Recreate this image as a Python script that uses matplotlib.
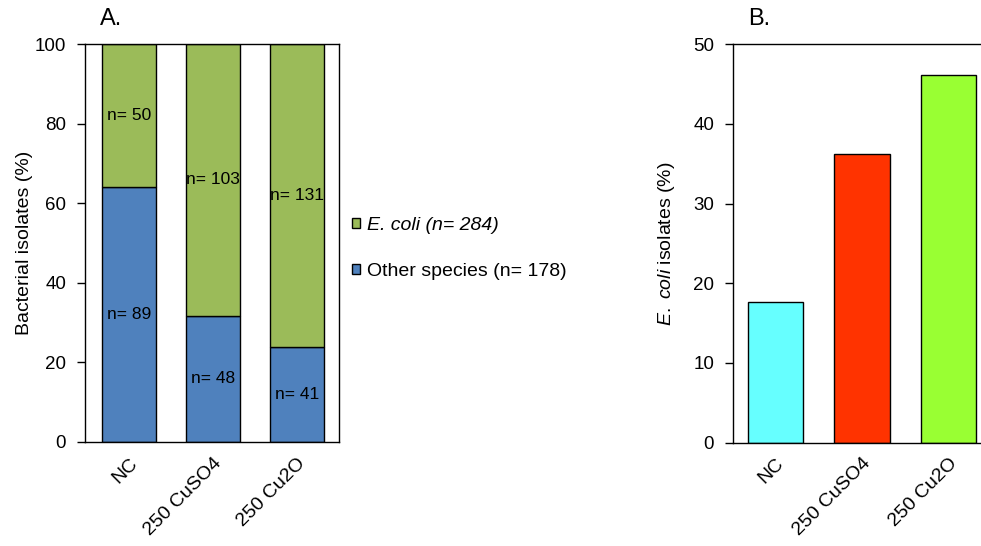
import numpy as np
import matplotlib.pyplot as plt
import matplotlib.transforms as mtransforms

plt.rcParams['font.family'] = ['Liberation Sans', 'DejaVu Sans']
plt.rcParams['mathtext.fontset'] = 'custom'
plt.rcParams['mathtext.rm'] = 'Liberation Sans'
plt.rcParams['mathtext.it'] = 'Liberation Sans:italic'

groups = ['NC', '250 CuSO4', '250 Cu2O']
ecoli_n = [50, 103, 131]
other_n = [89, 48, 41]
ecoli_total = 284
other_total = 178

totals = np.array(ecoli_n) + np.array(other_n)
other_pct = np.array(other_n) / totals * 100
ecoli_pct = np.array(ecoli_n) / totals * 100
# share of all E. coli isolates found in each group
ecoli_share = np.array(ecoli_n) / ecoli_total * 100

blue = '#4F81BD'
green = '#9BBB59'
colors_b = ['#66FFFF', '#FF3300', '#99FF33']

fig = plt.figure(figsize=(9.81, 5.46), dpi=100)
W, H = 981, 546

def px_axes(x0, y0, x1, y1):
    return fig.add_axes([x0 / W, 1 - y1 / H, (x1 - x0) / W, (y1 - y0) / H])

x = np.arange(len(groups))

# --- A. stacked percentages
ax1 = px_axes(85, 44.3, 339, 442)
b1 = ax1.bar(x, other_pct, width=0.64, color=blue, edgecolor='black', linewidth=1)
b2 = ax1.bar(x, ecoli_pct, width=0.64, bottom=other_pct, color=green, edgecolor='black', linewidth=1)
ax1.set_xlim(-0.52, 2.5)
ax1.set_ylim(0, 100)
ax1.set_yticks(range(0, 101, 20))
for i in range(len(groups)):
    ax1.text(x[i], other_pct[i] / 2, f'n= {other_n[i]}', ha='center', va='center', fontsize=12.5)
    ax1.text(x[i], other_pct[i] + ecoli_pct[i] / 2, f'n= {ecoli_n[i]}', ha='center', va='center', fontsize=12.5)
ax1.set_ylabel('Bacterial isolates (%)', fontsize=14)
ax1.yaxis.set_label_coords(-0.203, 0.5)
ax1.text(0.06, 1.035, 'A.', transform=ax1.transAxes, fontsize=17, ha='left', va='bottom')

leg = fig.legend([b2, b1],
                 [f'E. coli (n= {ecoli_total})', f'Other species (n= {other_total})'],
                 loc='upper left', bbox_to_anchor=(344 / W, 1 - 209 / H), frameon=False,
                 fontsize=14, handlelength=0.4, handleheight=0.4, handletextpad=0.4,
                 labelspacing=1.5, borderaxespad=0)
leg.get_texts()[0].set_fontstyle('italic')

# --- B. E. coli share per group
ax2 = px_axes(733, 44.3, 992, 442.5)
ax2.bar(x, ecoli_share, width=0.64, color=colors_b, edgecolor='black', linewidth=1)
ax2.set_xlim(-0.49, 2.5)
ax2.set_ylim(0, 50)
ax2.set_yticks(range(0, 51, 10))
ax2.set_ylabel('$\\it{E.\\ coli}$ isolates (%)', fontsize=14)
ax2.yaxis.set_label_coords(-0.217, 0.5)
ax2.text(0.058, 1.035, 'B.', transform=ax2.transAxes, fontsize=17, ha='left', va='bottom')

shift = mtransforms.ScaledTranslation(-0.05, 0, fig.dpi_scale_trans)
for ax in (ax1, ax2):
    ax.set_xticks(x)
    ax.set_xticklabels(groups, rotation=45, ha='right', rotation_mode='anchor', fontsize=14)
    for lab in ax.get_xticklabels():
        lab.set_transform(lab.get_transform() + shift)
    ax.tick_params(axis='x', length=0, pad=9)
    ax.tick_params(axis='y', direction='out', length=6, labelsize=13.5, width=1, pad=7.5)
    for s in ax.spines.values():
        s.set_linewidth(1)

fig.savefig('out.png', dpi=100)
